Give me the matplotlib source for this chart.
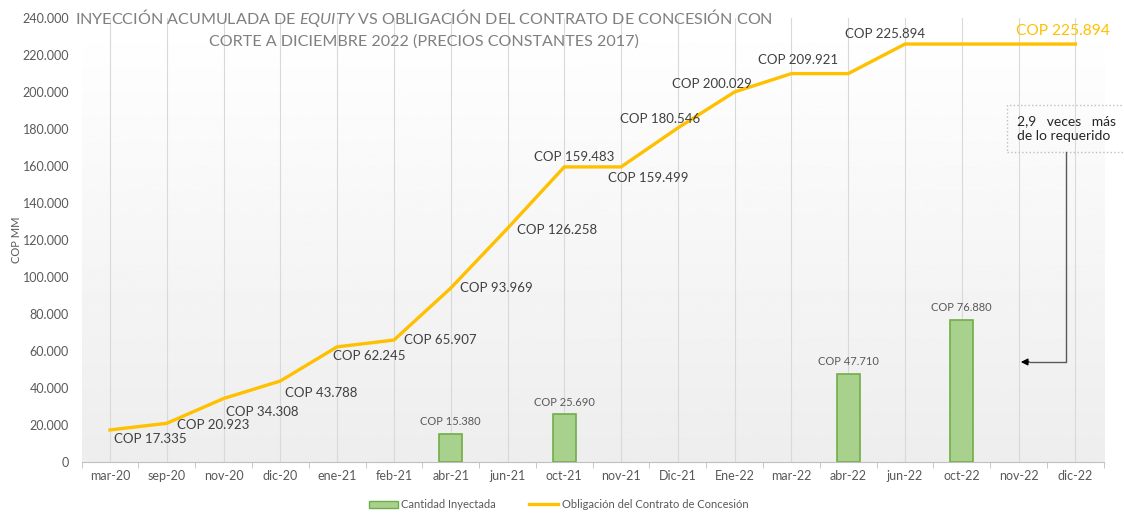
import matplotlib
matplotlib.use('Agg')
import matplotlib.pyplot as plt
import numpy as np
from matplotlib.patches import Patch, Rectangle
from matplotlib.lines import Line2D

plt.rcParams['font.family'] = ['Lato', 'DejaVu Sans']
plt.rcParams['mathtext.fontset'] = 'custom'
plt.rcParams['mathtext.it'] = 'Lato:italic'
plt.rcParams['mathtext.rm'] = 'Lato'

meses = ['mar-20', 'sep-20', 'nov-20', 'dic-20', 'ene-21', 'feb-21', 'abr-21', 'jun-21',
         'oct-21', 'nov-21', 'Dic-21', 'Ene-22', 'mar-22', 'abr-22', 'jun-22', 'oct-22',
         'nov-22', 'dic-22']
obligacion = [17335, 20923, 34308, 43788, 62245, 65907, 93969, 126258, 159483, 159499,
              180546, 200029, 209921, 209921, 225894, 225894, 225894, 225894]
inyectada = [0, 0, 0, 0, 0, 0, 15380, 0, 25690, 0, 0, 0, 0, 47710, 0, 76880, 0, 0]

# desplazamiento (puntos) de las etiquetas de la linea, None = sin etiqueta
offs = [(3, -6.5), (7, -1), (1.5, -10), (3.6, -8.6), (-3, -6.5), (7, 0), (6.5, 0), (6.5, -1),
        (-21.6, 7), (-9.4, -8), (-42, 6.5), (-45, 6), (-24, 10), None, (-43, 7), None, None, None]

gris = '#595959'
amarillo = '#FFC000'

fig = plt.figure(figsize=(11.24, 5.13), dpi=100)
ax = fig.add_axes([0.0726, 0.0994, 0.9094, 0.8656])

x = np.arange(len(meses))
ax.set_xlim(-0.5, len(meses) - 0.5)
ax.set_ylim(0, 240000)

# fondo degradado del area de trazado
grad = np.linspace(0.93, 1.0, 256).reshape(-1, 1)
ax.imshow(grad, aspect='auto', cmap='gray', vmin=0, vmax=1, origin='lower',
          extent=(-0.5, len(meses) - 0.5, 0, 240000), zorder=0)

for xi in x:
    ax.axvline(xi, color='#d9d9d9', lw=0.8, zorder=1)

iny = np.array(inyectada)
mask = iny > 0
ax.bar(x[mask], iny[mask], width=0.4, color='#a9d18e', edgecolor='#70ad47', lw=1.2, zorder=2)
for xi, v in zip(x[mask], iny[mask]):
    ax.annotate('COP ' + f'{v:,}'.replace(',', '.'), (xi, v), xytext=(0, 5),
                textcoords='offset points', ha='center', va='bottom', fontsize=8, color=gris)

ax.plot(x, obligacion, color=amarillo, lw=2.4, zorder=3, solid_joinstyle='miter')
for xi, v, o in zip(x, obligacion, offs):
    if o is None:
        continue
    ax.annotate('COP ' + f'{v:,}'.replace(',', '.'), (xi, v), xytext=o,
                textcoords='offset points', ha='left', va='center', fontsize=9.5, color='#404040', zorder=4)
ax.annotate('COP ' + f'{obligacion[-1]:,}'.replace(',', '.'), (x[-1], obligacion[-1]),
            xytext=(-43, 9.4), textcoords='offset points', ha='left', va='center',
            fontsize=11.2, color=amarillo, zorder=4)

ax.set_yticks(np.arange(0, 240001, 20000))
ax.set_yticklabels([f'{v:,}'.replace(',', '.') for v in range(0, 240001, 20000)],
                   fontsize=9, color=gris)
ax.set_xticks(x)
ax.set_xticklabels(meses, fontsize=9, color=gris)
ax.set_xticks(np.arange(-0.5, len(meses)), minor=True)
ax.tick_params(axis='x', which='major', length=0, pad=6)
ax.tick_params(axis='x', which='minor', length=4, color='#bfbfbf')
ax.tick_params(axis='y', length=0, pad=9)
for s in ['top', 'right', 'left']:
    ax.spines[s].set_visible(False)
ax.spines['bottom'].set_color('#bfbfbf')
ax.set_ylabel('COP MM', fontsize=8, color=gris)
ax.yaxis.set_label_coords(-0.058, 0.5)

fig.text(0.377, 1 - 18 / 513, r'INYECCIÓN ACUMULADA DE $EQUITY$ VS OBLIGACIÓN DEL CONTRATO DE CONCESIÓN CON',
         ha='center', va='center', fontsize=11.6, color='#808080')
fig.text(0.377, 1 - 42 / 513, 'CORTE A DICIEMBRE 2022 (PRECIOS CONSTANTES 2017)',
         ha='center', va='center', fontsize=11.6, color='#808080')

# cuadro de comentario (sale por el borde derecho como en el original)
fig.add_artist(Rectangle((1007 / 1124, 1 - 152 / 513), 130 / 1124, 47 / 513, transform=fig.transFigure,
                         fc='none', ec='#bfbfbf', ls=':', lw=1))
fig.text(1017 / 1124, 1 - 128.5 / 513, '2,9   veces   más\nde lo requerido', ha='left', va='center',
         fontsize=10, color='#262626', linespacing=1.35)
fig.add_artist(Line2D([1066 / 1124, 1066 / 1124, 1030 / 1124], [1 - 152 / 513, 1 - 362 / 513, 1 - 362 / 513],
                      color='#595959', lw=1))
ax.annotate('', xy=(1018 / 1124, 1 - 362 / 513), xytext=(1032 / 1124, 1 - 362 / 513),
            xycoords='figure fraction',
            arrowprops=dict(arrowstyle='-|>', color='black', lw=1, mutation_scale=10))

handles = [Patch(facecolor='#a9d18e', edgecolor='#70ad47', label='Cantidad Inyectada'),
           Line2D([0], [0], color=amarillo, lw=2.4, label='Obligación del Contrato de Concesión')]
fig.legend(handles=handles, loc='center', bbox_to_anchor=(0.497, 0.016), ncol=2, frameon=False,
           fontsize=8, labelcolor=gris, handlelength=2.6, columnspacing=3, handletextpad=0.3)

fig.savefig('out.png', dpi=100)
